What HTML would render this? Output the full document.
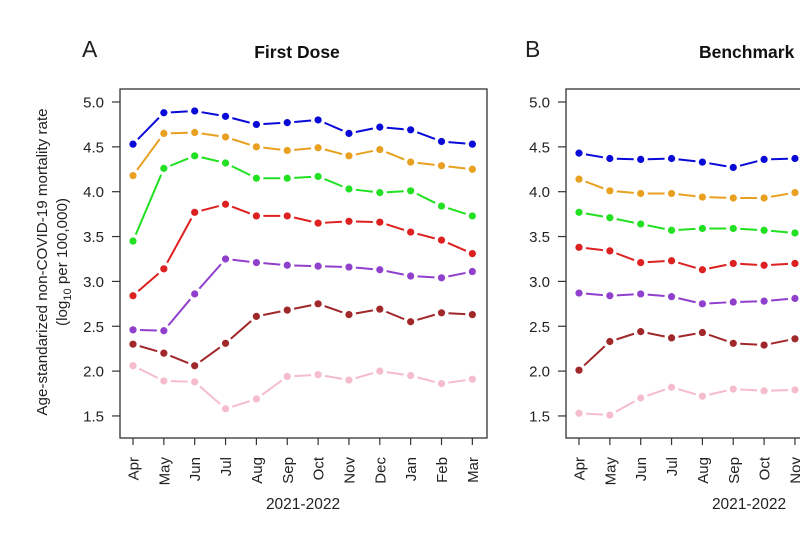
<!DOCTYPE html>
<html><head><meta charset="utf-8"><style>
html,body{margin:0;padding:0;background:#fff;}
svg{display:block;font-family:"Liberation Sans",Arial,sans-serif;}
</style></head><body>
<svg id="s" width="800" height="533" viewBox="0 0 800 533" xmlns="http://www.w3.org/2000/svg">
<rect width="800" height="533" fill="#fff"/>
<text x="82" y="57" font-size="23" fill="#222">A</text>
<text x="297" y="58" font-size="17.5" font-weight="bold" text-anchor="middle" fill="#111">First Dose</text>
<text x="525" y="57" font-size="23" fill="#222">B</text>
<text x="699" y="58" font-size="17.5" font-weight="bold" fill="#111">Benchmark</text>
<text transform="translate(47,262) rotate(-90)" font-size="15.2" text-anchor="middle" fill="#222">Age-standarized non-COVID-19 mortality rate</text>
<text transform="translate(67,262) rotate(-90)" font-size="15.2" text-anchor="middle" fill="#222">(log<tspan font-size="11" dy="4">10</tspan><tspan dy="-4"> per 100,000)</tspan></text>
<text x="303" y="509" font-size="15.5" text-anchor="middle" fill="#222">2021-2022</text>
<text x="749" y="509" font-size="15.5" text-anchor="middle" fill="#222">2021-2022</text>
<g id="g"></g>
</svg>
<script>
var NS="http://www.w3.org/2000/svg",g=document.getElementById("g");
function el(t,a,txt){var e=document.createElementNS(NS,t);for(var k in a)e.setAttribute(k,a[k]);if(txt)e.textContent=txt;g.appendChild(e);return e;}
function Y(v){return 102+(5-v)*89.7;}
var months=["Apr","May","Jun","Jul","Aug","Sep","Oct","Nov","Dec","Jan","Feb","Mar"];
var cols=["#0a0ad8","#e8a020","#22e022","#dd2020","#9040cc","#a0282a","#f5bccc"];
var L=[[4.53,4.88,4.90,4.84,4.75,4.77,4.80,4.65,4.72,4.69,4.56,4.53],
[4.18,4.65,4.66,4.61,4.50,4.46,4.49,4.40,4.47,4.33,4.29,4.25],
[3.45,4.26,4.40,4.32,4.15,4.15,4.17,4.03,3.99,4.01,3.84,3.73],
[2.84,3.14,3.77,3.86,3.73,3.73,3.65,3.67,3.66,3.55,3.46,3.31],
[2.46,2.45,2.86,3.25,3.21,3.18,3.17,3.16,3.13,3.06,3.04,3.11],
[2.30,2.20,2.06,2.31,2.61,2.68,2.75,2.63,2.69,2.55,2.65,2.63],
[2.06,1.89,1.88,1.58,1.69,1.94,1.96,1.90,2.00,1.95,1.86,1.91]];
var R=[[4.43,4.37,4.36,4.37,4.33,4.27,4.36,4.37],
[4.14,4.01,3.98,3.98,3.94,3.93,3.93,3.99],
[3.77,3.71,3.64,3.57,3.59,3.59,3.57,3.54],
[3.38,3.34,3.21,3.23,3.13,3.20,3.18,3.20],
[2.87,2.84,2.86,2.83,2.75,2.77,2.78,2.81],
[2.01,2.33,2.44,2.37,2.43,2.31,2.29,2.36],
[1.53,1.51,1.70,1.82,1.72,1.80,1.78,1.79]];
function panel(x0,x1,xa,data,n){
 el("rect",{x:x0,y:89,width:x1-x0,height:349,fill:"none",stroke:"#333","stroke-width":1.3});
 for(var v=1.5;v<=5.01;v+=0.5){var y=Y(v);el("line",{x1:x0-8,x2:x0,y1:y,y2:y,stroke:"#333","stroke-width":1.2});
  el("text",{x:x0-16,y:y+5.5,"font-size":15,"text-anchor":"end",fill:"#222"},v.toFixed(1));}
 for(var i=0;i<n;i++){var x=xa+i*30.85;if(x>800)break;
  el("line",{x1:x,x2:x,y1:438,y2:445,stroke:"#333","stroke-width":1.2});
  el("text",{transform:"translate("+(x+5.5)+",457) rotate(-90)","font-size":15,"text-anchor":"end",fill:"#222"},months[i]);}
 data.forEach(function(s,k){var c=cols[k];
  for(var i=0;i<s.length-1;i++){var ax=xa+i*30.85,ay=Y(s[i]),bx=xa+(i+1)*30.85,by=Y(s[i+1]);
   var dx=bx-ax,dy=by-ay,d=Math.sqrt(dx*dx+dy*dy),g2=7/d;
   if(d>16)el("line",{x1:ax+dx*g2,y1:ay+dy*g2,x2:bx-dx*g2,y2:by-dy*g2,stroke:c,"stroke-width":2});}
  s.forEach(function(v,i){el("circle",{cx:xa+i*30.85,cy:Y(v),r:3.6,fill:c});});});
}
panel(120,487,133,L,12);
panel(566,820,579,R,8);
</script>
</body></html>
